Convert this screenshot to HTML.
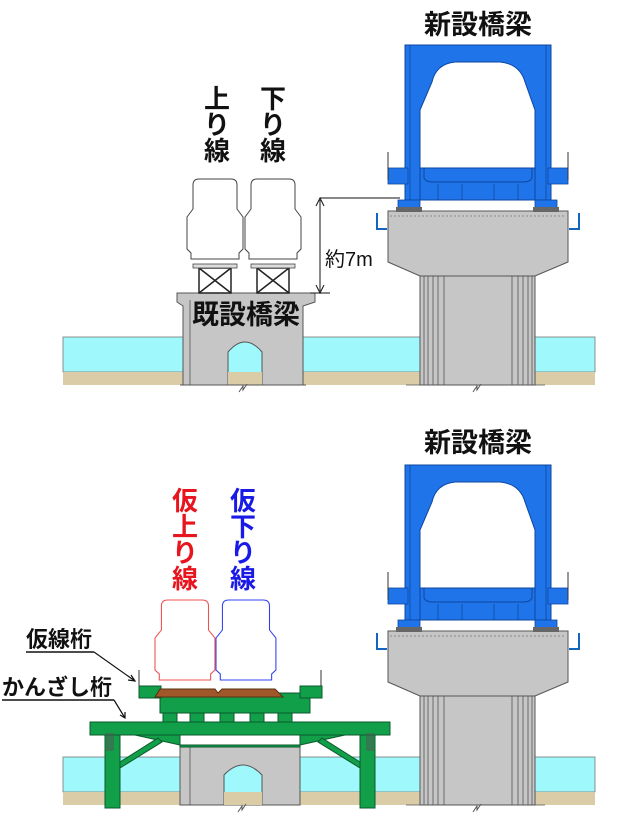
<!DOCTYPE html>
<html><head><meta charset="utf-8"><style>
html,body{margin:0;padding:0;background:#fff}
svg{display:block}
.t{font-family:"Liberation Sans","Noto Sans CJK JP",sans-serif;font-weight:bold}
</style></head><body>
<svg width="640" height="822" viewBox="0 0 640 822" xmlns="http://www.w3.org/2000/svg">
<defs>
<g id="newbr">
  <rect x="535" y="337" width="60" height="35" fill="#9ff8fb" stroke="#777" stroke-width="0.8"/>
  <rect x="535" y="372" width="60" height="13" fill="#d9cca6"/>
  <path d="M388 211 H568 V262 L535 276 H420 L388 262 Z" fill="#c6c6c6" stroke="#555" stroke-width="1"/>
  <rect x="420" y="276" width="115" height="109" fill="#c6c6c6" stroke="#555" stroke-width="1"/>
  <g stroke="#555" stroke-width="0.8">
    <line x1="424" y1="276" x2="424" y2="385"/><line x1="428" y1="276" x2="428" y2="385"/><line x1="433" y1="276" x2="433" y2="385"/><line x1="438" y1="276" x2="438" y2="385"/><line x1="444" y1="276" x2="444" y2="385"/>
    <line x1="512" y1="276" x2="512" y2="385"/><line x1="518" y1="276" x2="518" y2="385"/><line x1="523" y1="276" x2="523" y2="385"/><line x1="528" y1="276" x2="528" y2="385"/><line x1="532" y1="276" x2="532" y2="385"/>
    <line x1="406" y1="385" x2="545" y2="385"/>
  </g>
  <path d="M473 392 l4 -6 v4 l4 -6" fill="none" stroke="#555" stroke-width="1"/>
  <line x1="390" y1="216" x2="566" y2="216" stroke="#777" stroke-width="0.7" stroke-dasharray="2 2"/>
  <path d="M377 213 v16 h10" fill="none" stroke="#1565c0" stroke-width="2"/>
  <path d="M579 213 v16 h-10" fill="none" stroke="#1565c0" stroke-width="2"/>
  <path d="M405 45 H551 V200 H535 V110 L525 82 Q520 64 500 62 H455 Q436 64 432 82 L420 110 V200 H405 Z" fill="#1e74e8" stroke="#0d47a1" stroke-width="1"/>
  <path d="M420 168 H535 V200 H420 Z" fill="#1e74e8" stroke="#0d47a1" stroke-width="1"/>
  <path d="M424 168 V178 Q426 182 432 182 H524 Q530 182 532 178 V168" fill="none" stroke="#0d47a1" stroke-width="1"/>
  <rect x="388" y="168" width="20" height="16" fill="#1e74e8" stroke="#0d47a1" stroke-width="0.8"/>
  <rect x="548" y="168" width="20" height="16" fill="#1e74e8" stroke="#0d47a1" stroke-width="0.8"/>
  <line x1="388" y1="152" x2="388" y2="180" stroke="#333" stroke-width="1"/>
  <line x1="568" y1="152" x2="568" y2="180" stroke="#333" stroke-width="1"/>
  <g stroke="#0d47a1" stroke-width="0.8">
    <line x1="438" y1="184" x2="438" y2="200"/><line x1="462" y1="184" x2="462" y2="200"/><line x1="494" y1="184" x2="494" y2="200"/><line x1="518" y1="184" x2="518" y2="200"/>
    <line x1="410" y1="45" x2="410" y2="200"/><line x1="546" y1="45" x2="546" y2="200"/>
  </g>
  <rect x="398" y="200" width="22" height="10" fill="#1e74e8" stroke="#0d47a1" stroke-width="0.8"/>
  <rect x="535" y="200" width="22" height="10" fill="#1e74e8" stroke="#0d47a1" stroke-width="0.8"/>
  <rect x="396" y="207" width="26" height="5" fill="#666"/>
  <rect x="533" y="207" width="26" height="5" fill="#666"/>
</g>
<path id="car" d="M12 0 H44 Q50 0 50 6 V30 L56 38 V70 L52 74 V80 H4 V74 L0 70 V38 L6 30 V6 Q6 0 12 0 Z"/>
</defs>

<!-- TOP PANEL -->
<rect x="63" y="337" width="120" height="35" fill="#9ff8fb" stroke="#777" stroke-width="0.8"/>
<rect x="303" y="337" width="117" height="35" fill="#9ff8fb" stroke="#777" stroke-width="0.8"/>
<rect x="63" y="372" width="357" height="13" fill="#d9cca6"/>
<use href="#newbr"/>
<path d="M177 293 H315 V302 L303 306 V385 H183 V306 L177 302 Z" fill="#c6c6c6" stroke="#555" stroke-width="1"/>
<line x1="190" y1="300" x2="190" y2="385" stroke="#555" stroke-width="0.8"/>
<path d="M228 385 V352 Q245 332 262 352 V385 Z" fill="#9ff8fb" stroke="#555" stroke-width="1"/>
<rect x="228" y="372" width="34" height="13" fill="#d9cca6"/>
<line x1="180" y1="385" x2="306" y2="385" stroke="#555"/>
<path d="M239 392 l4 -6 v4 l4 -6" fill="none" stroke="#555"/>
<text class="t" x="246" y="324" font-size="27" text-anchor="middle" fill="#111">既設橋梁</text>
<g stroke="#222" stroke-width="1.5" fill="none">
  <rect x="199" y="268" width="32" height="25"/><line x1="199" y1="268" x2="231" y2="293"/><line x1="231" y1="268" x2="199" y2="293"/>
  <rect x="257" y="268" width="32" height="25"/><line x1="257" y1="268" x2="289" y2="293"/><line x1="289" y1="268" x2="257" y2="293"/>
</g>
<rect x="193" y="264" width="44" height="4" fill="#ddd" stroke="#444" stroke-width="0.8"/>
<rect x="251" y="264" width="44" height="4" fill="#ddd" stroke="#444" stroke-width="0.8"/>
<g fill="#fff" stroke="#444" stroke-width="1">
  <use href="#car" transform="translate(187,179)"/>
  <use href="#car" transform="translate(245,179)"/>
</g>
<line x1="320" y1="198" x2="400" y2="198" stroke="#111"/>
<line x1="310" y1="293" x2="330" y2="293" stroke="#111"/>
<line x1="320" y1="200" x2="320" y2="291" stroke="#111"/>
<path d="M316 206 L320 198 L324 206 M316 285 L320 293 L324 285" fill="none" stroke="#111"/>
<text x="325" y="266" font-size="20" font-family="'Liberation Sans','Noto Sans CJK JP',sans-serif" fill="#111">約7m</text>
<text class="t" x="478" y="34" font-size="27" text-anchor="middle" fill="#111">新設橋梁</text>
<g class="t" font-size="26" text-anchor="middle" fill="#111">
  <text x="217" y="108">上</text><text x="217" y="134">り</text><text x="217" y="160">線</text>
  <text x="273" y="108">下</text><text x="273" y="134">り</text><text x="273" y="160">線</text>
</g>

<!-- BOTTOM PANEL -->
<rect x="63" y="757" width="357" height="35" fill="#9ff8fb" stroke="#777" stroke-width="0.8"/>
<rect x="63" y="792" width="357" height="13" fill="#d9cca6"/>
<use href="#newbr" transform="translate(0,420)"/>
<text class="t" x="478" y="452" font-size="27" text-anchor="middle" fill="#111">新設橋梁</text>
<rect x="180" y="745" width="120" height="60" fill="#c6c6c6" stroke="#555"/>
<line x1="190" y1="745" x2="190" y2="805" stroke="#555" stroke-width="0.8"/>
<path d="M224 805 V775 Q243 755 262 775 V805 Z" fill="#9ff8fb" stroke="#555"/>
<rect x="224" y="792" width="38" height="13" fill="#d9cca6"/>
<path d="M238 812 l4 -6 v4 l4 -6" fill="none" stroke="#555"/>
<g fill="#119f4a" stroke="#0b5a2a" stroke-width="1">
  <rect x="90" y="722" width="300" height="13"/>
  <path d="M135 735 H180 V747 H300 V735 H345 L300 745 H180 Z"/>
  <rect x="105" y="735" width="15" height="73"/>
  <rect x="360" y="735" width="15" height="73"/>
  <path d="M120 762 L158 738 L162 742 L120 768 Z"/>
  <path d="M360 762 L322 738 L318 742 L360 768 Z"/>
  <rect x="163" y="713" width="14" height="9"/><rect x="190" y="713" width="14" height="9"/><rect x="220" y="713" width="14" height="9"/><rect x="250" y="713" width="14" height="9"/><rect x="278" y="713" width="14" height="9"/>
  <rect x="160" y="693" width="150" height="20"/>
  <rect x="139" y="686" width="22" height="12"/>
  <rect x="300" y="686" width="22" height="12"/>
</g>
<rect x="106" y="733" width="8" height="18" fill="#555" opacity="0.5"/>
<rect x="366" y="733" width="8" height="18" fill="#555" opacity="0.5"/>
<path d="M155 697 L160 689 H215 L218 693 L222 689 H275 L283 697 Z" fill="#a0582a" stroke="#5a3010" stroke-width="1"/>
<line x1="139" y1="670" x2="139" y2="686" stroke="#333"/>
<line x1="321" y1="670" x2="321" y2="686" stroke="#333"/>
<g fill="#fff" stroke-width="1">
  <use href="#car" transform="translate(155,600) scale(1.07,1.0)" stroke="#f05050"/>
  <use href="#car" transform="translate(216,600) scale(1.07,1.0)" stroke="#3040f0"/>
</g>
<g class="t" font-size="26" text-anchor="middle">
  <g fill="#e8141e"><text x="185" y="510">仮</text><text x="185" y="536">上</text><text x="185" y="562">り</text><text x="185" y="588">線</text></g>
  <g fill="#1a1ae6"><text x="243" y="510">仮</text><text x="243" y="536">下</text><text x="243" y="562">り</text><text x="243" y="588">線</text></g>
</g>
<g class="t" font-size="22" fill="#111">
  <text x="26" y="647">仮線桁</text>
  <text x="2" y="695">かんざし桁</text>
</g>
<line x1="26" y1="652" x2="94" y2="652" stroke="#111" stroke-width="1.5"/>
<line x1="2" y1="700" x2="114" y2="700" stroke="#111" stroke-width="1.5"/>
<path d="M94 652 L135 681 M128 680 L135 681 L131 675" fill="none" stroke="#111" stroke-width="1.2"/>
<path d="M114 700 L125 718 M120 715 L125 718 L125 712" fill="none" stroke="#111" stroke-width="1.2"/>
</svg>
</body></html>
